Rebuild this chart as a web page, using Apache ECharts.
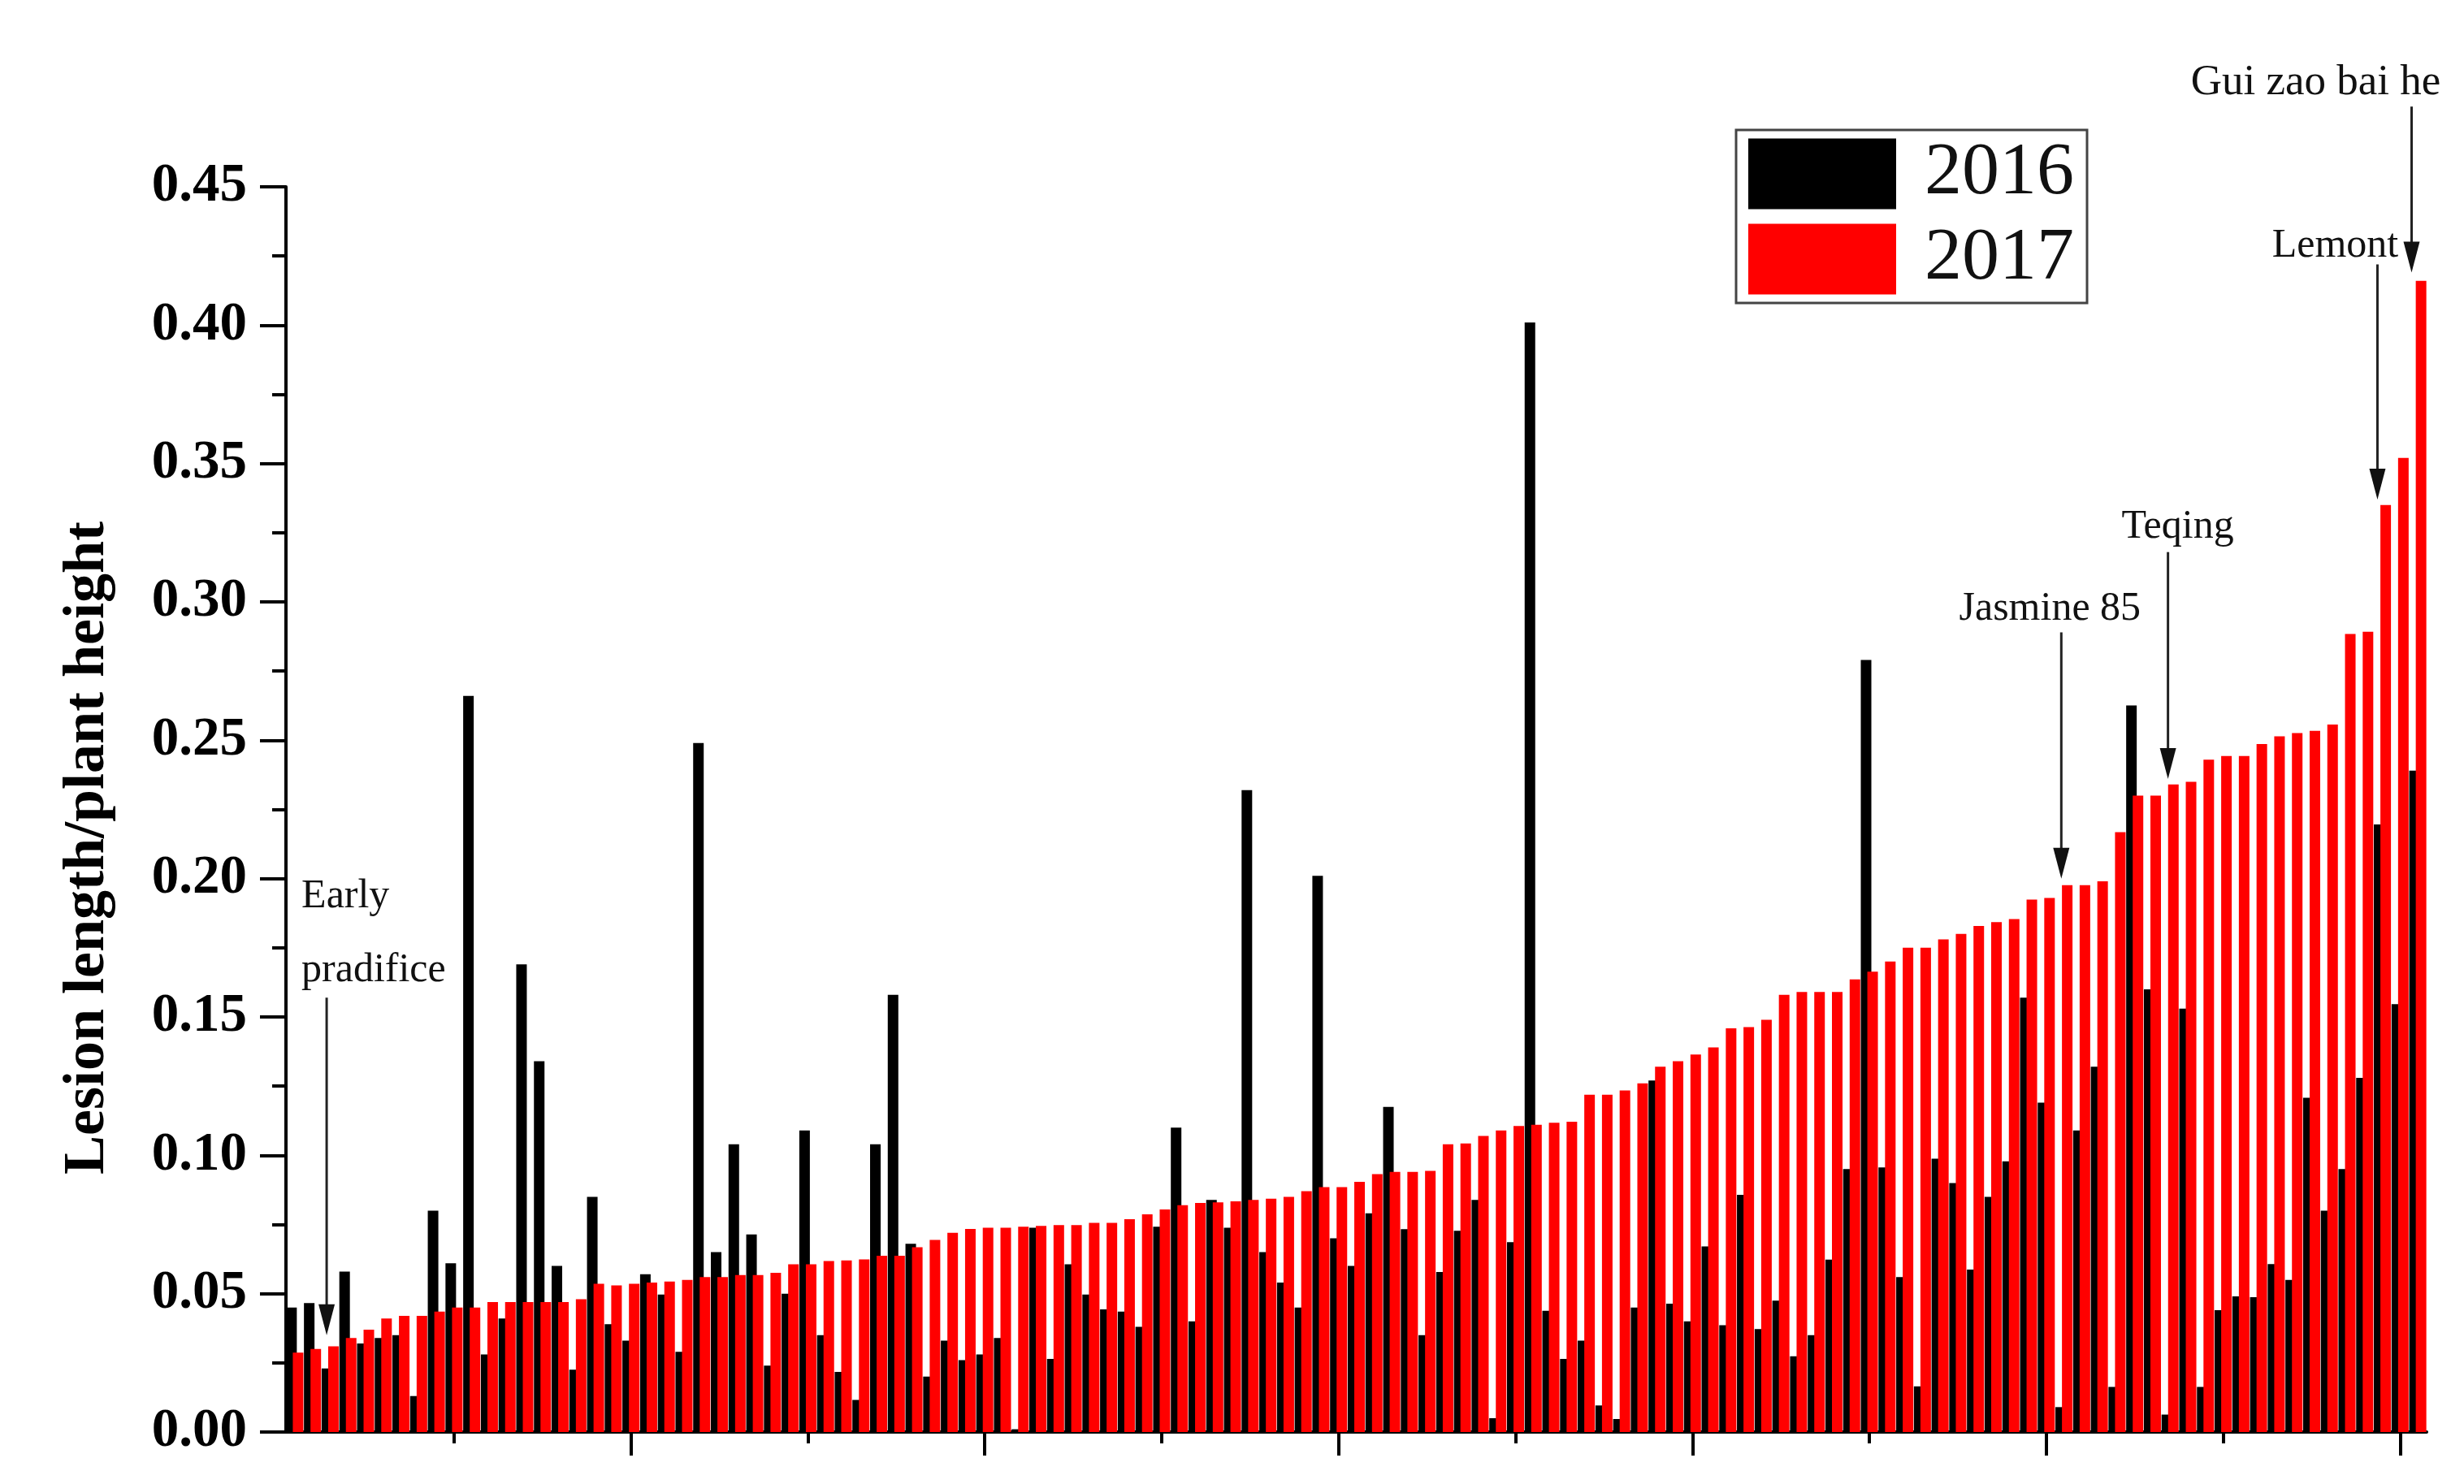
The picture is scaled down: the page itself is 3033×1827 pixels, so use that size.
<!DOCTYPE html>
<html lang="en">
<head>
<meta charset="UTF-8">
<title>Lesion length / plant height, 2016 and 2017</title>
<script src="https://cdn.jsdelivr.net/npm/echarts@6.0.0/dist/echarts.min.js"></script>
<style>
  html, body { margin: 0; padding: 0; background: #fff; }
  #chart { width: 3033px; height: 1827px; }
</style>
</head>
<body>
<div id="chart"></div>
<script>
// values, accessions sorted by their 2017 ratio
var years = ['2016', '2017'];
var values2016 = [
  0.045, 0.0466, 0.023, 0.058, 0.032, 0.034, 0.035, 0.013, 0.080, 0.061,
  0.266, 0.028, 0.041, 0.169, 0.134, 0.060, 0.0225, 0.085, 0.039, 0.033,
  0.057, 0.0497, 0.029, 0.249, 0.065, 0.104, 0.0714, 0.024, 0.050, 0.109,
  0.035, 0.0217, 0.0116, 0.104, 0.158, 0.068, 0.020, 0.033, 0.026, 0.028,
  0.034, 0.001, 0.0738, 0.0264, 0.0606, 0.0497, 0.0443, 0.0435, 0.038, 0.0742,
  0.110, 0.040, 0.0839, 0.0738, 0.232, 0.065, 0.054, 0.045, 0.201, 0.070,
  0.060, 0.079, 0.1175, 0.0733, 0.035, 0.0578, 0.0727, 0.0839, 0.005, 0.0686,
  0.401, 0.0438, 0.0264, 0.033, 0.0096, 0.0047, 0.045, 0.127, 0.0464, 0.040,
  0.0671, 0.0386, 0.0857, 0.0372, 0.0475, 0.0274, 0.035, 0.0623, 0.095, 0.279,
  0.0956, 0.056, 0.0165, 0.0988, 0.090, 0.0587, 0.085, 0.0978, 0.157, 0.119,
  0.009, 0.109, 0.132, 0.0163, 0.2626, 0.160, 0.0063, 0.153, 0.0163, 0.044,
  0.049, 0.0487, 0.0607, 0.055, 0.1208, 0.080, 0.095, 0.128, 0.2196, 0.1546,
  0.239
];
var values2017 = [
  0.0287, 0.030, 0.031, 0.034, 0.037, 0.041, 0.042, 0.042, 0.0435, 0.045,
  0.045, 0.047, 0.047, 0.047, 0.047, 0.047, 0.048, 0.0536, 0.053, 0.0536,
  0.054, 0.0544, 0.055, 0.056, 0.056, 0.0567, 0.0567, 0.0575, 0.0606, 0.0606,
  0.0618, 0.062, 0.0624, 0.0637, 0.0637, 0.0668, 0.0694, 0.072, 0.0734, 0.0738,
  0.0738, 0.0742, 0.0745, 0.0748, 0.0748, 0.0756, 0.0756, 0.0769, 0.0787, 0.0804,
  0.082, 0.0828, 0.083, 0.0834, 0.0839, 0.0843, 0.085, 0.087, 0.0885, 0.0885,
  0.0904, 0.0932, 0.094, 0.094, 0.0944, 0.104, 0.1043, 0.107, 0.109, 0.1106,
  0.111, 0.1118, 0.1121, 0.1219, 0.1219, 0.1234, 0.126, 0.132, 0.134, 0.1364,
  0.139, 0.1459, 0.1463, 0.149, 0.158, 0.159, 0.159, 0.159, 0.1636, 0.1664,
  0.170, 0.175, 0.175, 0.178, 0.180, 0.1829, 0.1843, 0.1854, 0.1924, 0.193,
  0.1976, 0.1976, 0.199, 0.2168, 0.230, 0.230, 0.234, 0.235, 0.243, 0.2443,
  0.2443, 0.2486, 0.2514, 0.2526, 0.2534, 0.2557, 0.2884, 0.2892, 0.335, 0.352,
  0.416
];
// accession number on the (unlabelled) x axis
var categories = values2017.map(function (v, i) { return String(i + 1); });

// named cultivars: position on the x axis (accession no.), arrow start and tip in y units
var notes = [
  { lines: ['Early', 'pradifice'], at: 2.8, from: 0.157, to: 0.035 },
  { lines: ['Jasmine 85'], at: 100.85, from: 0.289, to: 0.200 },
  { lines: ['Teqing'], at: 106.88, from: 0.318, to: 0.236 },
  { lines: ['Lemont'], at: 118.72, from: 0.422, to: 0.337 },
  { lines: ['Gui zao bai he'], at: 120.65, from: 0.479, to: 0.419 }
];
// where each label sits relative to its arrow (pixels)
var noteText = [
  { dx: -31, dy: [-124, -33], align: 'left' },
  { dx: -14, dy: [-29], align: 'center' },
  { dx: 12, dy: [-31], align: 'center' },
  { dx: -52, dy: [-23], align: 'center' },
  { dx: -118, dy: [-29], align: 'center' }
];

var serif = '"Liberation Serif", "Times New Roman", serif';
var chart = echarts.init(document.getElementById('chart'));

var tickStyle = { color: '#000', width: 4 };

chart.setOption({
  animation: false,
  backgroundColor: '#fff',
  grid: { left: 352, right: 46, top: 230, bottom: 64, containLabel: false, outerBoundsMode: 'none' },
  legend: {
    data: years,
    orient: 'vertical',
    left: 2137,
    top: 160,
    icon: 'rect',
    itemWidth: 182,
    itemHeight: 87,
    itemGap: 13,
    padding: [8, 16, 8, 15],
    borderColor: '#444',
    borderWidth: 3,
    borderRadius: 0,
    selectedMode: false,
    textStyle: { fontFamily: serif, fontSize: 92, lineHeight: 87, color: '#111', padding: [0, 0, 0, 30] }
  },
  xAxis: [
    {
      type: 'category',
      data: categories,
      boundaryGap: true,
      axisLine: { show: true, lineStyle: { color: '#000', width: 4 } },
      axisTick: {
        show: true, alignWithLabel: true, length: 29, lineStyle: tickStyle,
        interval: function (i) { return (i + 1) % 20 === 0; }
      },
      axisLabel: { show: false },
      splitLine: { show: false }
    },
    {
      type: 'category',
      data: categories,
      position: 'bottom',
      boundaryGap: true,
      axisLine: { show: false },
      axisTick: {
        show: true, alignWithLabel: true, length: 14, lineStyle: tickStyle,
        interval: function (i) { return (i + 1) % 20 === 10; }
      },
      axisLabel: { show: false },
      splitLine: { show: false }
    }
  ],
  yAxis: {
    type: 'value',
    min: 0,
    max: 0.45,
    interval: 0.05,
    axisLine: { show: true, lineStyle: { color: '#000', width: 4 } },
    axisTick: { show: true, length: 32, lineStyle: tickStyle },
    minorTick: { show: true, splitNumber: 2, length: 17, lineStyle: tickStyle },
    splitLine: { show: false },
    minorSplitLine: { show: false },
    axisLabel: {
      margin: 48,
      fontFamily: serif,
      fontWeight: 'bold',
      fontSize: 67,
      color: '#000',
      formatter: function (v) { return v.toFixed(2); }
    }
  },
  series: [
    {
      name: '2016',
      type: 'bar',
      data: values2016,
      barWidth: 13,
      barGap: '-38%',
      itemStyle: { color: '#000000' }
    },
    {
      name: '2017',
      type: 'bar',
      data: values2017,
      barWidth: 13,
      barGap: '-38%',
      itemStyle: { color: '#ff0000' }
    }
  ]
});

// arrows, cultivar names and the rotated y-axis title
function drawNotes() {
  var x0 = chart.convertToPixel({ xAxisIndex: 0 }, 0);
  var x1 = chart.convertToPixel({ xAxisIndex: 0 }, 1);
  var step = x1 - x0;
  var els = [];
  notes.forEach(function (n, k) {
    var x = x0 + (n.at - 1) * step;
    var yTop = chart.convertToPixel({ yAxisIndex: 0 }, n.from);
    var yTip = chart.convertToPixel({ yAxisIndex: 0 }, n.to);
    els.push({
      type: 'line', silent: true, z: 100,
      shape: { x1: x, y1: yTop, x2: x, y2: yTip - 30 },
      style: { stroke: '#222', lineWidth: 3 }
    });
    els.push({
      type: 'polygon', silent: true, z: 100,
      shape: { points: [[x - 10, yTip - 38], [x + 10, yTip - 38], [x, yTip]] },
      style: { fill: '#111' }
    });
    var t = noteText[k];
    n.lines.forEach(function (line, j) {
      els.push({
        type: 'text', silent: true, z: 100,
        style: {
          text: line,
          x: x + t.dx,
          y: yTop + t.dy[j],
          font: (k === 4 ? '53px ' : '50px ') + serif,
          fill: '#111',
          textAlign: t.align,
          textVerticalAlign: 'middle'
        }
      });
    });
  });
  els.push({
    type: 'text', silent: true,
    x: 108, y: 1044, rotation: Math.PI / 2,
    style: {
      text: 'Lesion length/plant height',
      font: 'bold 72px ' + serif,
      fill: '#000',
      textAlign: 'center',
      textVerticalAlign: 'middle'
    }
  });
  chart.setOption({ graphic: els });
}
drawNotes();
</script>
</body>
</html>
